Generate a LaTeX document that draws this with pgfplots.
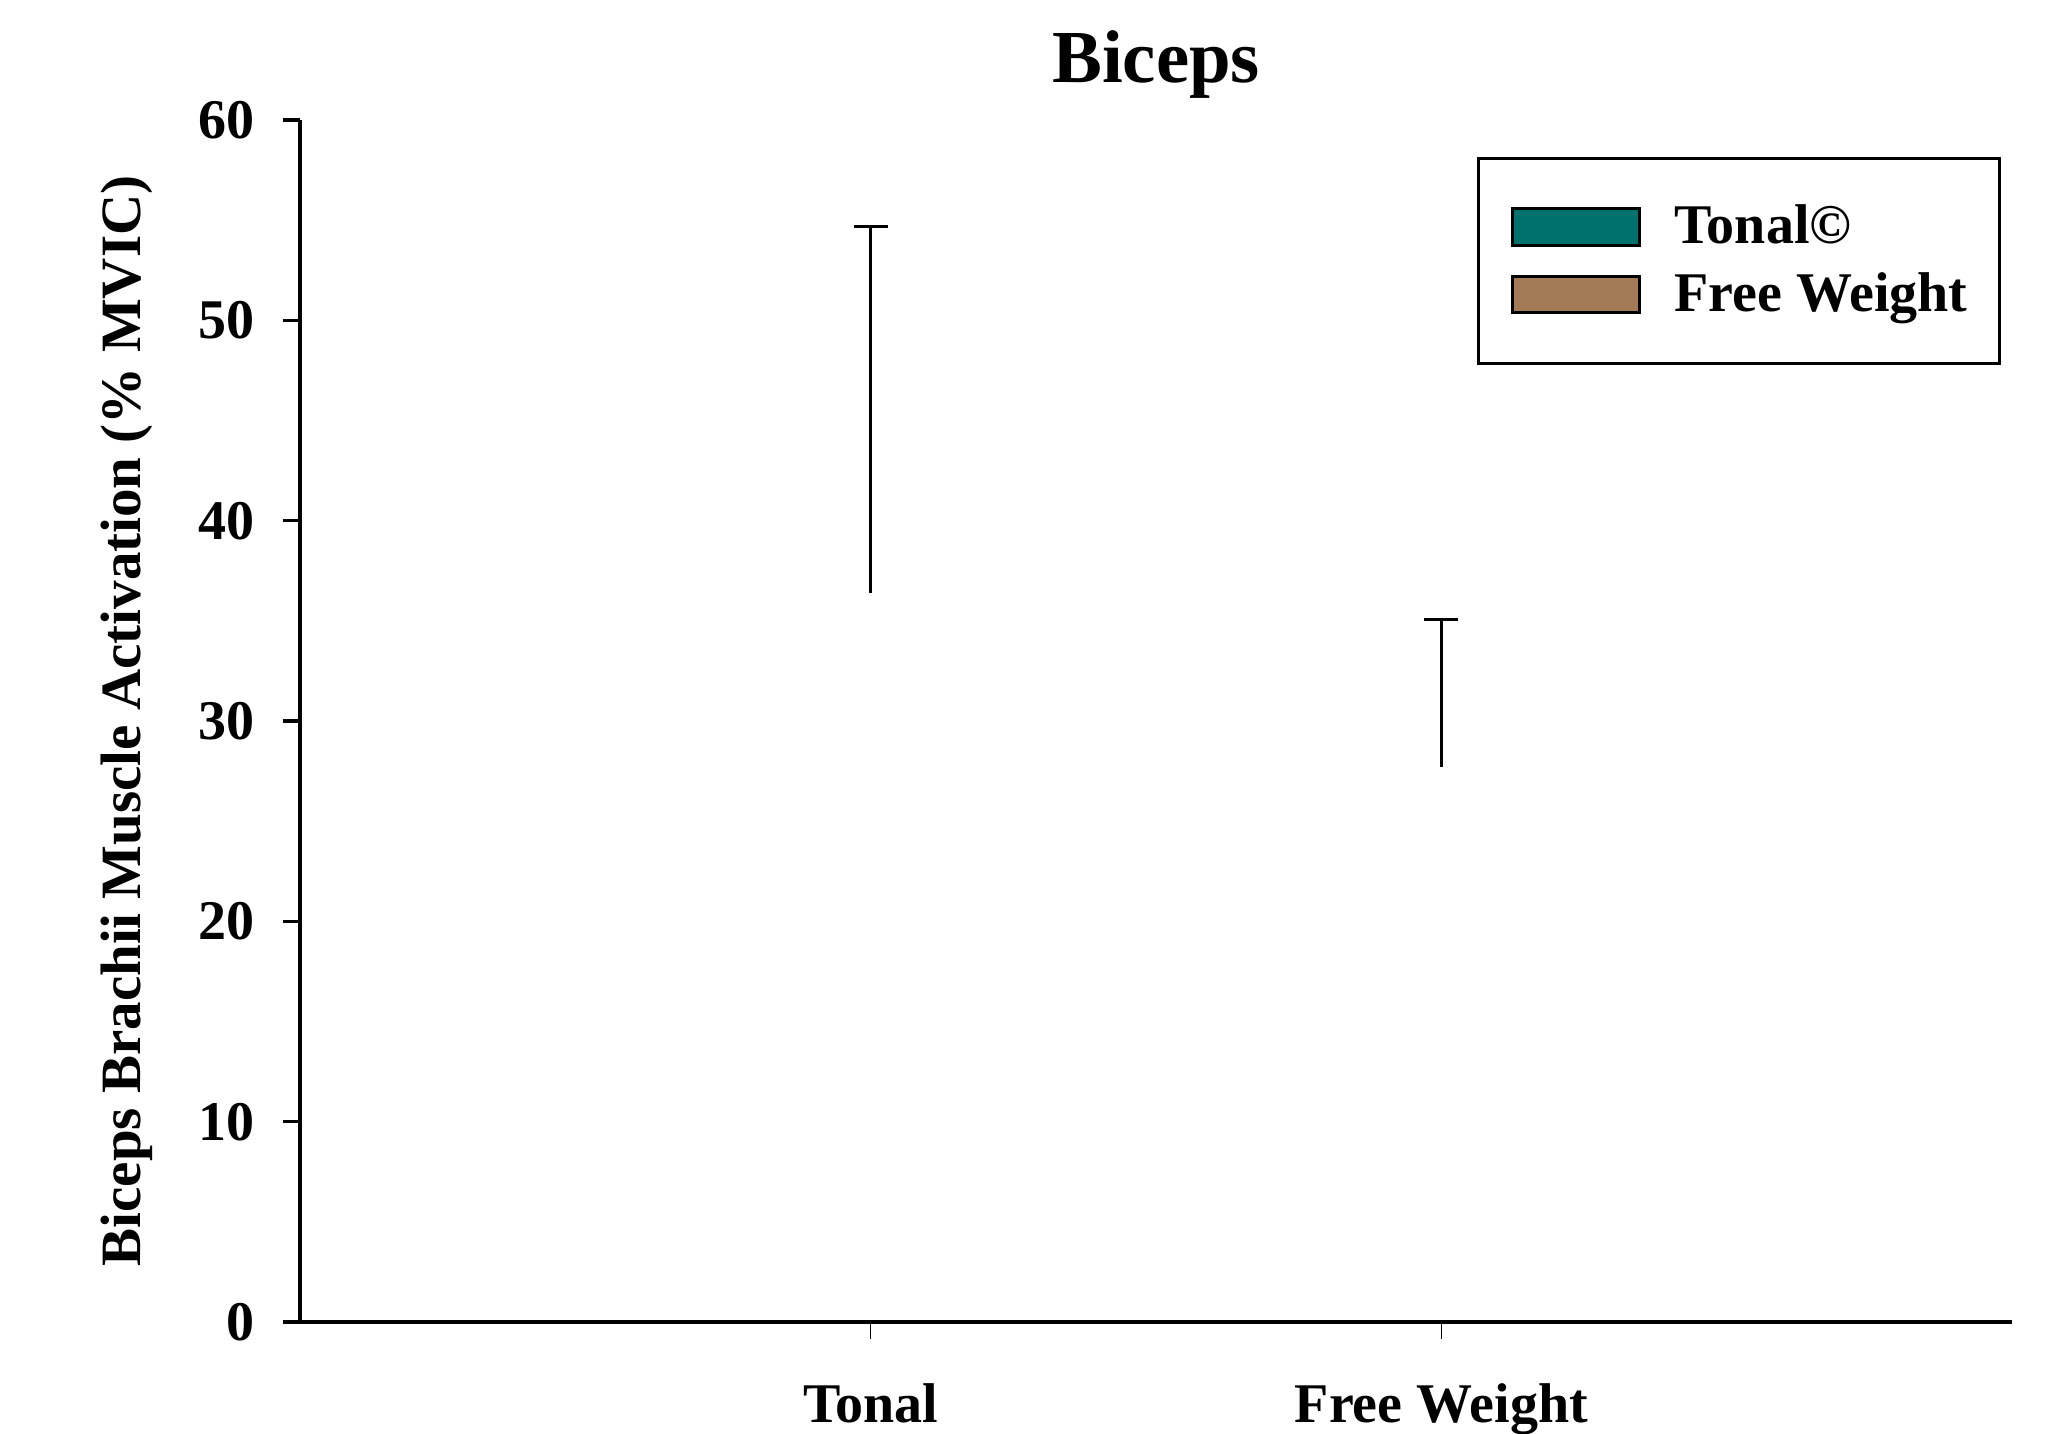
\documentclass[border=0pt]{standalone}
\usepackage{pgfplots}
\pgfplotsset{compat=1.18}
\usepackage{fontspec}
\setmainfont{Liberation Serif}
\definecolor{tonal}{RGB}{0,114,110}
\definecolor{fw}{RGB}{165,122,86}
\begin{document}
\begin{tikzpicture}
\path[use as bounding box] (0,0) rectangle (512.25pt,358.5pt);
\begin{axis}[
  at={(75pt,28pt)}, anchor=south west,
  scale only axis, width=428pt, height=300.5pt,
  xmin=0, xmax=3, ymin=0, ymax=60,
  xtick={1,2}, xticklabels={Tonal, Free Weight},
  ytick={0,10,...,60},
  axis x line*=bottom, axis y line*=left,
  axis line style={-, line width=0.9pt, black},
  tick align=outside, major tick length=4.25pt,
  ytick style={line width=0.8pt, black},
  xtick style={line width=0.4pt, black},
  font=\fontsize{14pt}{16pt}\selectfont\bfseries,
  /pgf/number format/assume math mode=true,
  yticklabel style={anchor=east, inner sep=0pt, xshift=-7pt},
  xticklabel style={anchor=base, inner sep=0pt, yshift=-21pt},
  title={Biceps},
  title style={font=\fontsize{18.7pt}{20pt}\selectfont\bfseries, at={(0.5,1)}, anchor=center, yshift=7.75pt},
  ylabel={Biceps Brachii Muscle Activation (\% MVIC)},
  ylabel style={at={(axis description cs:0,0.5)}, anchor=center, yshift=43.25pt, font=\fontsize{14.25pt}{16pt}\selectfont\bfseries},
  legend style={at={(1,1)}, anchor=north east, xshift=-2.75pt, yshift=-9.25pt,
    draw=black, line width=0.75pt, inner xsep=6pt, inner ysep=9.5pt,
    font=\fontsize{14pt}{16pt}\selectfont\bfseries, row sep=1.7pt},
  legend cell align=left,
]
\addlegendimage{legend image code/.code={\path (-2pt,0pt) (38.25pt,0pt); \draw[line width=0.75pt, draw=black, fill=tonal] (0pt,-4.6pt) rectangle (31.75pt,4.6pt);}}
\addlegendentry{Tonal©}
\addlegendimage{legend image code/.code={\path (-2pt,0pt) (38.25pt,0pt); \draw[line width=0.75pt, draw=black, fill=fw] (0pt,-4.6pt) rectangle (31.75pt,4.6pt);}}
\addlegendentry{Free Weight}
\addplot[forget plot, draw=none, mark=none,
  error bars/.cd, y dir=plus, y explicit,
  error bar style={draw=black, line width=0.7pt},
  error mark options={rotate=90, mark size=4.25pt, draw=black, line width=0.7pt}]
  coordinates {(1,36.4) +- (0,18.3)};
\addplot[forget plot, draw=none, mark=none,
  error bars/.cd, y dir=plus, y explicit,
  error bar style={draw=black, line width=0.7pt},
  error mark options={rotate=90, mark size=4.25pt, draw=black, line width=0.7pt}]
  coordinates {(2,27.7) +- (0,7.35)};
\end{axis}
\end{tikzpicture}
\end{document}
